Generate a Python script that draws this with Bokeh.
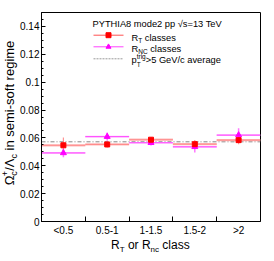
import numpy as np
from bokeh.plotting import figure
from bokeh.models import FixedTicker, Label, Range1d, Div
from bokeh.layouts import column
from bokeh.embed import file_html
from bokeh.resources import INLINE

# ---------------- data ----------------
categories = ["<0.5", "0.5-1", "1-1.5", "1.5-2", ">2"]
rt_values = [0.0547, 0.0553, 0.0587, 0.0555, 0.0584]
rt_stat = [0.0055, 0.0022, 0.0020, 0.0030, 0.0030]
rt_syst = [0.0008, 0.0008, 0.0008, 0.0008, 0.0008]
rnc_values = [0.0492, 0.0609, 0.0565, 0.0536, 0.0620]
rnc_stat = [0.0030, 0.0030, 0.0020, 0.0040, 0.0050]
rnc_syst = [0.0006, 0.0006, 0.0006, 0.0006, 0.0006]
avg_value = 0.0572
y_ticks = [0.0, 0.02, 0.04, 0.06, 0.08, 0.10, 0.12, 0.14]
y_tick_labels = ["0", "0.02", "0.04", "0.06", "0.08", "0.1", "0.12", "0.14"]
y_max = 0.15

FONT = "Liberation Sans"
FRAME_W, FRAME_H = 219, 209

n = len(categories)
x_centers = np.arange(n) + 0.5
x_left = np.arange(n) + 0.0
x_right = np.arange(n) + 1.0
boundaries = list(np.arange(1, n))

p = figure(width=274, height=238, x_range=Range1d(0, n), y_range=Range1d(0, y_max),
           output_backend="svg", toolbar_location=None,
           min_border_left=41, min_border_right=14, min_border_top=12, min_border_bottom=17)
p.background_fill_color = "white"
p.border_fill_color = "white"
p.outline_line_color = "black"
p.outline_line_width = 1
p.xgrid.visible = False
p.ygrid.visible = False

# axes
p.yaxis.ticker = FixedTicker(ticks=y_ticks,
                             minor_ticks=list(np.round(np.arange(0, y_max + 1e-9, 0.005), 4)))
p.yaxis.major_label_overrides = {t: l for t, l in zip(y_ticks, y_tick_labels)}
p.xaxis.ticker = FixedTicker(ticks=list(x_centers), minor_ticks=boundaries)
p.xaxis.major_label_overrides = {float(c): l for c, l in zip(x_centers, categories)}
for ax in (p.xaxis, p.yaxis):
    ax.axis_line_color = "black"
    ax.major_label_text_font = FONT
    ax.major_label_text_font_size = "10px"
    ax.major_label_text_color = "black"
    ax.major_tick_out = 0
    ax.minor_tick_out = 0
    ax.major_tick_line_color = "black"
    ax.minor_tick_line_color = "black"
p.yaxis.major_tick_in = 4
p.yaxis.minor_tick_in = 2
p.yaxis.major_label_standoff = 2
p.xaxis.major_tick_line_color = None
p.xaxis.minor_tick_in = 5
p.xaxis.major_label_standoff = 3

# ---------------- data marks ----------------
rt = np.array(rt_values); rts = np.array(rt_stat); rty = np.array(rt_syst)
rn = np.array(rnc_values); rns = np.array(rnc_stat); rny = np.array(rnc_syst)

# average line
p.segment(x0=[0], x1=[n], y0=[avg_value], y1=[avg_value],
          line_color="#888888", line_width=1, line_dash="4 2 1 2")

# RT systematic boxes + x bars
p.quad(left=x_left, right=x_right, bottom=rt - rty, top=rt + rty,
       fill_color="#ffb0b0", line_color=None, fill_alpha=0.9)
p.segment(x0=x_left, x1=x_right, y0=rt, y1=rt, line_color="#ff8a8a", line_width=1)
# RNC systematic boxes + x bars
p.quad(left=x_left, right=x_right, bottom=rn - rny, top=rn + rny,
       fill_color="#ffa6ff", line_color=None, fill_alpha=0.8)
p.segment(x0=x_left, x1=x_right, y0=rn, y1=rn, line_color="#ff44ff", line_width=1)

# vertical stat errors
p.segment(x0=x_centers, x1=x_centers, y0=rt - rts, y1=rt + rts,
          line_color="#ff7a7a", line_width=1.2, line_alpha=0.8)
p.segment(x0=x_centers, x1=x_centers, y0=rn - rns, y1=rn + rns,
          line_color="#ff55ff", line_width=1.5, line_alpha=0.8)

# markers
p.scatter(x_centers, rn, marker="triangle", size=6, fill_color="#ff00ff", line_color="#ff00ff")
p.scatter(x_centers, rt, marker="square", size=5, fill_color="#ff0000", line_color="#ff0000")

# ---------------- legend (manual) ----------------
def fx(px):
    return px / FRAME_W * n

def fy(py):
    return py / FRAME_H * y_max

lx0, lx1, lxm = fx(52), fx(82), fx(67)
row_y = [fy(186.3), fy(174.7), fy(162.7)]
p.segment(x0=[lx0], x1=[lx1], y0=[row_y[0]], y1=[row_y[0]], line_color="#ff5050", line_width=1)
p.scatter([lxm], [row_y[0]], marker="square", size=5, fill_color="#ff0000", line_color="#ff0000")
p.segment(x0=[lx0], x1=[lx1], y0=[row_y[1]], y1=[row_y[1]], line_color="#ff44ff", line_width=1)
p.scatter([lxm], [row_y[1]], marker="triangle", size=5, fill_color="#ff00ff", line_color="#ff00ff")
p.segment(x0=[lx0], x1=[lx1], y0=[row_y[2]], y1=[row_y[2]], line_color="#999999",
          line_width=1, line_dash="2 1")


def lab(text, x, y, size):
    p.add_layout(Label(x=x, y=y, x_units="screen", y_units="screen", text=text,
                       text_font=FONT, text_font_size=f"{size}px", text_color="black",
                       text_align="left", text_baseline="alphabetic"))

# legend texts
lab("PYTHIA8 mode2 pp \u221as=13 TeV", 51, 197.5, 9.3)
lab("R", 90, 184, 9.3)
lab("T", 96.7, 181.5, 6.5)
lab("classes", 103.3, 184, 9.3)
lab("R", 90, 172.5, 9.3)
lab("NC", 96.7, 170, 6.5)
lab("classes", 108.7, 172.5, 9.3)
lab("p", 90, 161.5, 9.3)
lab("T", 95.2, 157.5, 6.5)
lab("trig", 95.2, 165, 6.5)
lab(">5 GeV/c average", 104.2, 161.5, 9.3)

# ---------------- axis titles (HTML, below the figure, shifted into place) ----------------
sub = "position:relative;font-size:{s}px;top:{t}px;"
x_title = (
    "R<span style='" + sub.format(s=8, t=3) + "'>T</span> or "
    "R<span style='" + sub.format(s=8, t=3) + "'>nc</span> class"
)
y_title = (
    "\u03a9<span style='" + sub.format(s=9, t=3) + "'>c</span>"
    "<span style='" + sub.format(s=9, t=-6) + "margin-left:-5px;'>+</span>"
    "/\u039b<span style='" + sub.format(s=9, t=3) + "'>c</span> in semi-soft regime"
)
html = (
    "<div style=\"position:relative;width:274px;height:23px;font-family:'Liberation Sans';color:black;\">"
    "<div style='position:absolute;left:111px;top:1px;font-size:12px;line-height:12px;white-space:nowrap;'>"
    + x_title + "</div>"
    "<div style='position:absolute;left:10px;top:-125px;font-size:13px;line-height:13px;white-space:nowrap;"
    "transform:translate(-50%,-50%) rotate(-90deg);'>" + y_title + "</div>"
    "</div>"
)
titles = Div(text=html, width=274, height=23, margin=0)

layout = column(p, titles, spacing=0)
open("out.html", "w").write(file_html(layout, INLINE))
